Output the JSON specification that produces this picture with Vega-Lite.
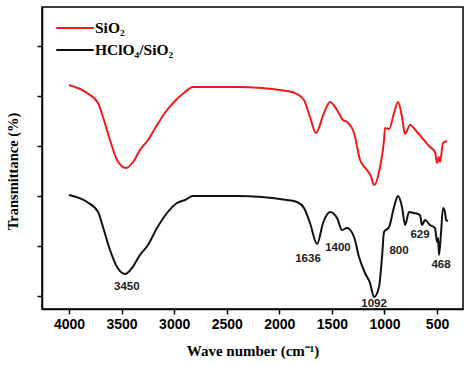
{
  "$schema": "https://vega.github.io/schema/vega-lite/v6.json",
  "width": 421,
  "height": 302,
  "autosize": {"type": "none"},
  "padding": {"left": 42, "top": 7, "right": 11, "bottom": 56},
  "background": "white",
  "config": {
    "view": {"stroke": "black", "strokeWidth": 1.5},
    "axis": {"domainColor": "black", "domainWidth": 1.5, "tickColor": "black", "tickWidth": 1.5, "grid": false}
  },
  "datasets": {
    "spectra": [
      {"s": "SiO₂", "w": 4000, "t": 224}, {"s": "SiO₂", "w": 3829, "t": 216}, {"s": "SiO₂", "w": 3724, "t": 206},
      {"s": "SiO₂", "w": 3677, "t": 192}, {"s": "SiO₂", "w": 3610, "t": 169}, {"s": "SiO₂", "w": 3543, "t": 149},
      {"s": "SiO₂", "w": 3458, "t": 141}, {"s": "SiO₂", "w": 3391, "t": 147}, {"s": "SiO₂", "w": 3325, "t": 159},
      {"s": "SiO₂", "w": 3249, "t": 169}, {"s": "SiO₂", "w": 3163, "t": 184}, {"s": "SiO₂", "w": 3068, "t": 199},
      {"s": "SiO₂", "w": 2973, "t": 210}, {"s": "SiO₂", "w": 2897, "t": 217}, {"s": "SiO₂", "w": 2821, "t": 222},
      {"s": "SiO₂", "w": 2754, "t": 222}, {"s": "SiO₂", "w": 2402, "t": 222}, {"s": "SiO₂", "w": 1927, "t": 218},
      {"s": "SiO₂", "w": 1832, "t": 215}, {"s": "SiO₂", "w": 1765, "t": 209}, {"s": "SiO₂", "w": 1708, "t": 192},
      {"s": "SiO₂", "w": 1651, "t": 176}, {"s": "SiO₂", "w": 1575, "t": 196}, {"s": "SiO₂", "w": 1518, "t": 207},
      {"s": "SiO₂", "w": 1451, "t": 199}, {"s": "SiO₂", "w": 1394, "t": 189}, {"s": "SiO₂", "w": 1356, "t": 187},
      {"s": "SiO₂", "w": 1289, "t": 176}, {"s": "SiO₂", "w": 1232, "t": 149}, {"s": "SiO₂", "w": 1166, "t": 139},
      {"s": "SiO₂", "w": 1130, "t": 133}, {"s": "SiO₂", "w": 1099, "t": 124}, {"s": "SiO₂", "w": 1042, "t": 142},
      {"s": "SiO₂", "w": 1004, "t": 169}, {"s": "SiO₂", "w": 995, "t": 181}, {"s": "SiO₂", "w": 956, "t": 180},
      {"s": "SiO₂", "w": 909, "t": 196}, {"s": "SiO₂", "w": 871, "t": 207}, {"s": "SiO₂", "w": 833, "t": 192},
      {"s": "SiO₂", "w": 804, "t": 175}, {"s": "SiO₂", "w": 757, "t": 184}, {"s": "SiO₂", "w": 690, "t": 177},
      {"s": "SiO₂", "w": 624, "t": 169}, {"s": "SiO₂", "w": 567, "t": 162}, {"s": "SiO₂", "w": 519, "t": 157},
      {"s": "SiO₂", "w": 500, "t": 146}, {"s": "SiO₂", "w": 481, "t": 152}, {"s": "SiO₂", "w": 471, "t": 147},
      {"s": "SiO₂", "w": 443, "t": 166}, {"s": "SiO₂", "w": 405, "t": 168},
      {"s": "HClO₄/SiO₂", "w": 4000, "t": 114}, {"s": "HClO₄/SiO₂", "w": 3829, "t": 107}, {"s": "HClO₄/SiO₂", "w": 3724, "t": 97},
      {"s": "HClO₄/SiO₂", "w": 3677, "t": 82}, {"s": "HClO₄/SiO₂", "w": 3610, "t": 59}, {"s": "HClO₄/SiO₂", "w": 3543, "t": 42},
      {"s": "HClO₄/SiO₂", "w": 3467, "t": 35}, {"s": "HClO₄/SiO₂", "w": 3401, "t": 41}, {"s": "HClO₄/SiO₂", "w": 3325, "t": 54},
      {"s": "HClO₄/SiO₂", "w": 3249, "t": 64}, {"s": "HClO₄/SiO₂", "w": 3163, "t": 81}, {"s": "HClO₄/SiO₂", "w": 3068, "t": 96},
      {"s": "HClO₄/SiO₂", "w": 2973, "t": 106}, {"s": "HClO₄/SiO₂", "w": 2897, "t": 109}, {"s": "HClO₄/SiO₂", "w": 2821, "t": 113},
      {"s": "HClO₄/SiO₂", "w": 2402, "t": 113}, {"s": "HClO₄/SiO₂", "w": 1927, "t": 109}, {"s": "HClO₄/SiO₂", "w": 1832, "t": 107},
      {"s": "HClO₄/SiO₂", "w": 1765, "t": 101}, {"s": "HClO₄/SiO₂", "w": 1708, "t": 86}, {"s": "HClO₄/SiO₂", "w": 1641, "t": 65},
      {"s": "HClO₄/SiO₂", "w": 1584, "t": 86}, {"s": "HClO₄/SiO₂", "w": 1518, "t": 97}, {"s": "HClO₄/SiO₂", "w": 1451, "t": 91},
      {"s": "HClO₄/SiO₂", "w": 1404, "t": 79}, {"s": "HClO₄/SiO₂", "w": 1356, "t": 81}, {"s": "HClO₄/SiO₂", "w": 1289, "t": 72},
      {"s": "HClO₄/SiO₂", "w": 1242, "t": 52}, {"s": "HClO₄/SiO₂", "w": 1185, "t": 36}, {"s": "HClO₄/SiO₂", "w": 1137, "t": 26},
      {"s": "HClO₄/SiO₂", "w": 1099, "t": 12}, {"s": "HClO₄/SiO₂", "w": 1052, "t": 22}, {"s": "HClO₄/SiO₂", "w": 1023, "t": 52},
      {"s": "HClO₄/SiO₂", "w": 1004, "t": 77}, {"s": "HClO₄/SiO₂", "w": 956, "t": 82}, {"s": "HClO₄/SiO₂", "w": 909, "t": 102},
      {"s": "HClO₄/SiO₂", "w": 871, "t": 113}, {"s": "HClO₄/SiO₂", "w": 833, "t": 102}, {"s": "HClO₄/SiO₂", "w": 804, "t": 84},
      {"s": "HClO₄/SiO₂", "w": 766, "t": 97}, {"s": "HClO₄/SiO₂", "w": 719, "t": 96}, {"s": "HClO₄/SiO₂", "w": 662, "t": 94},
      {"s": "HClO₄/SiO₂", "w": 643, "t": 84}, {"s": "HClO₄/SiO₂", "w": 614, "t": 89}, {"s": "HClO₄/SiO₂", "w": 567, "t": 84},
      {"s": "HClO₄/SiO₂", "w": 519, "t": 81}, {"s": "HClO₄/SiO₂", "w": 500, "t": 67}, {"s": "HClO₄/SiO₂", "w": 490, "t": 71},
      {"s": "HClO₄/SiO₂", "w": 481, "t": 54}, {"s": "HClO₄/SiO₂", "w": 462, "t": 76}, {"s": "HClO₄/SiO₂", "w": 443, "t": 101},
      {"s": "HClO₄/SiO₂", "w": 424, "t": 97}, {"s": "HClO₄/SiO₂", "w": 414, "t": 89}, {"s": "HClO₄/SiO₂", "w": 395, "t": 88}
    ],
    "peaks": [
      {"label": "3450", "w": 3450, "t": 22},
      {"label": "1636", "w": 1727, "t": 50},
      {"label": "1400", "w": 1442, "t": 61},
      {"label": "1092", "w": 1099, "t": 5},
      {"label": "800", "w": 861, "t": 58},
      {"label": "629", "w": 662, "t": 74},
      {"label": "468", "w": 462, "t": 44}
    ]
  },
  "layer": [
    {
      "data": {"name": "spectra"},
      "mark": {"type": "line", "strokeWidth": 2, "interpolate": "monotone"},
      "encoding": {
        "x": {
          "field": "w", "type": "quantitative",
          "scale": {"domain": [4257, 253], "nice": false, "zero": false},
          "axis": {
            "values": [500, 750, 1000, 1250, 1500, 1750, 2000, 2250, 2500, 2750, 3000, 3250, 3500, 3750, 4000],
            "labelExpr": "datum.value % 500 == 0 ? datum.label : ''",
            "format": "d",
            "tickSize": 5,
            "labelFont": "Liberation Sans", "labelFontWeight": "bold", "labelFontSize": 14, "labelColor": "black",
            "labelPadding": 3,
            "title": "Wave number (cm⁻¹)",
            "titleFont": "Liberation Serif", "titleFontWeight": "bold", "titleFontSize": 15, "titleColor": "black",
            "titlePadding": 12
          }
        },
        "y": {
          "field": "t", "type": "quantitative",
          "scale": {"domain": [0, 302], "nice": false, "zero": false},
          "axis": {
            "values": [13, 38, 63, 88, 113, 138, 163, 188, 213, 238, 263, 288],
            "labels": false,
            "tickSize": 5,
            "title": "Transmittance (%)",
            "titleFont": "Liberation Serif", "titleFontWeight": "bold", "titleFontSize": 14.5, "titleColor": "black",
            "titleX": -29, "titleY": 164, "titleBaseline": "middle"
          }
        },
        "color": {
          "field": "s", "type": "nominal",
          "scale": {"domain": ["SiO₂", "HClO₄/SiO₂"], "range": ["#f01a1a", "#111111"]},
          "legend": {
            "title": null,
            "orient": "none", "legendX": 13, "legendY": 10,
            "symbolType": "stroke", "symbolSize": 1400, "symbolStrokeWidth": 2,
            "labelFont": "Liberation Serif", "labelFontWeight": "bold", "labelFontSize": 15.5, "labelColor": "black",
            "labelOffset": 0, "rowPadding": 0, "clipHeight": 22, "padding": 0
          }
        }
      }
    },
    {
      "data": {"name": "peaks"},
      "mark": {"type": "text", "font": "Liberation Sans", "fontWeight": "bold", "fontSize": 11.5, "color": "#222222", "baseline": "middle", "align": "center"},
      "encoding": {
        "x": {"field": "w", "type": "quantitative"},
        "y": {"field": "t", "type": "quantitative"},
        "text": {"field": "label"}
      }
    }
  ]
}
